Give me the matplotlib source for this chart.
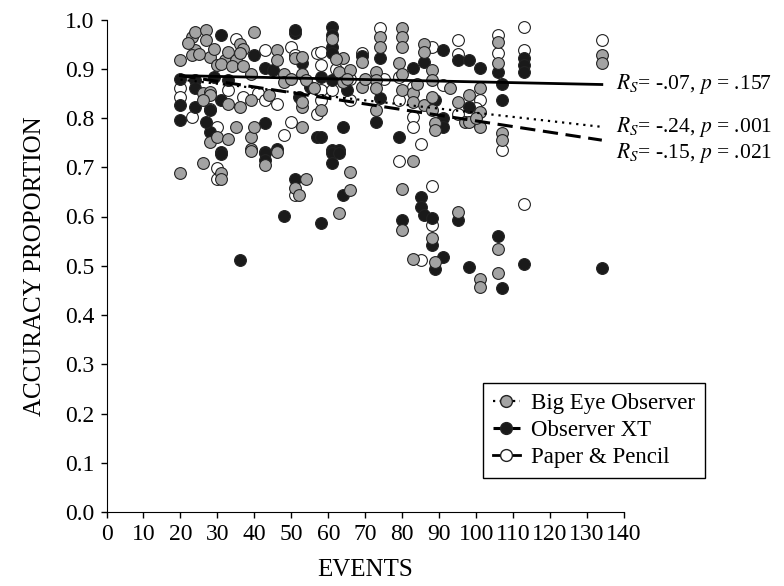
import matplotlib
matplotlib.use("Agg")
import matplotlib.pyplot as plt
from matplotlib.lines import Line2D

plt.rcParams['font.family'] = 'Liberation Serif'
plt.rcParams['mathtext.fontset'] = 'stix'

# Big Eye Observer (gray)
big_x = [20, 23, 24, 27, 27, 36, 37, 24, 23, 28, 30, 32, 33, 35, 36, 40, 46, 46, 51, 53,
         53, 39, 48, 48, 54, 26, 28, 28, 26, 33, 36, 39, 44, 53, 53, 28, 30, 33, 35, 39,
         40, 39, 53,
         61, 58, 63, 64, 66, 64, 69, 69, 74, 74, 73, 73, 73, 73, 80, 80, 80, 79, 80, 86,
         86, 88, 88, 80, 83, 83, 86, 88, 88, 89, 89, 95, 97,
         106, 106, 107, 107, 134, 134, 101, 101, 101, 98, 98,
         20, 26, 31, 31, 39, 43, 46, 54, 51, 52,
         66, 66, 63, 83, 80, 80, 88, 83, 89, 95,
         106, 106, 101, 101,
         22, 25, 29, 31, 34, 37, 50, 56, 62, 65, 70, 84, 93, 100]
big_y = [.917, .965, .975, .978, .958, .951, .941, .938, .928, .924, .907, .917, .934, .917, .931, .975, .938, .917, .921, .924,
         .890, .890, .890, .873, .877, .850, .853, .846, .836, .829, .823, .836, .846, .823, .833, .752, .762, .758, .782, .762,
         .782, .738, .782,
         .961, .816, .894, .921, .897, .873, .914, .863, .965, .945, .894, .877, .860, .816, .982, .965, .945, .911, .890, .951,
         .934, .897, .877, .857, .850, .833, .826, .843, .816, .789, .775, .833, .792,
         .955, .911, .769, .755, .928, .911, .860, .813, .782, .846, .792,
         .689, .709, .688, .677, .732, .705, .730, .677, .657, .644,
         .691, .654, .608, .713, .656, .573, .556, .513, .508, .610,
         .535, .486, .474, .456,
         .952, .930, .940, .910, .905, .905, .880, .860, .920, .880, .880, .870, .860, .800]

# Observer XT (black)
xt_x = [31, 51, 51, 40, 53, 20, 24, 29, 33, 43, 45, 55, 20, 20, 24, 24, 28, 31, 52, 28,
        27, 31, 43, 43, 46, 57,
        61, 61, 61, 61, 61, 58, 65, 74, 74, 73, 64, 58, 61, 63, 79, 83, 91, 86, 89, 91,
        91, 95, 69,
        106, 107, 107, 113, 113, 113, 98, 101, 98,
        31, 43, 43, 51, 48, 36, 58,
        61, 63, 61, 64, 80, 85, 85, 86, 88, 88, 91, 89, 98, 95,
        106, 107, 113, 134]
xt_y = [.968, .972, .978, .928, .911, .880, .877, .884, .877, .901, .897, .863, .826, .796, .860, .823, .816, .836, .843, .772,
        .792, .731, .789, .731, .738, .762,
        .985, .968, .945, .931, .877, .884, .857, .921, .840, .792, .782, .762, .735, .735, .762, .901, .938, .914, .836, .799,
        .782, .917, .925,
        .894, .870, .836, .921, .907, .894, .917, .901, .823,
        .726, .728, .715, .677, .602, .512, .586,
        .728, .728, .709, .644, .593, .639, .620, .603, .596, .542, .518, .493, .498, .593,
        .560, .454, .503, .495]

# Paper & Pencil (white)
pp_x = [35, 43, 50, 51, 57, 20, 20, 23, 28, 37, 33, 41, 43, 46, 57, 30, 48, 50,
        58, 58, 58, 58, 61, 66, 69, 74, 79, 88, 83, 79, 91, 83, 83, 85, 95, 95,
        113, 106, 106, 107, 113, 134, 101,
        30, 30, 51,
        79, 88, 88, 85,
        113, 62, 66, 75, 95, 100]
pp_y = [.961, .938, .945, .928, .931, .860, .843, .802, .819, .843, .857, .850, .836, .829, .809, .782, .765, .792,
        .934, .907, .857, .836, .857, .836, .931, .982, .884, .945, .863, .836, .867, .802, .782, .748, .958, .809,
        .985, .968, .931, .735, .938, .958, .836,
        .698, .677, .644,
        .713, .662, .583, .512,
        .625, .900, .880, .880, .930, .820]

# fitted trend lines (end points)
trend_x = [20, 134]
big_trend = [0.878, 0.782]
xt_trend = [0.886, 0.755]
pp_trend = [0.886, 0.868]

stats = ["$R_S$= -.07, $p$ = .157", "$R_S$= -.24, $p$ = .001", "$R_S$= -.15, $p$ = .021"]
stats_y = [0.869, 0.782, 0.729]

gray = '#a3a3a3'
black = '#1a1a1a'

fig = plt.figure(figsize=(7.84, 5.86), dpi=100)
ax = fig.add_axes([106.5 / 784, 74 / 586, 517.5 / 784, 492.5 / 586])

ms = 72
ax.scatter(pp_x, pp_y, s=ms, facecolor='white', edgecolor='#222222', linewidth=0.8, zorder=2)
ax.scatter(xt_x, xt_y, s=ms, facecolor=black, edgecolor='#222222', linewidth=0.8, zorder=3)
ax.scatter(big_x, big_y, s=ms, facecolor=gray, edgecolor='#222222', linewidth=0.8, zorder=4)

ax.plot(trend_x, pp_trend, color='black', lw=2.0, zorder=5)
ax.plot(trend_x, big_trend, color='black', lw=1.6, linestyle=(0, (1, 2.2)), zorder=5)
ax.plot(trend_x, xt_trend, color='black', lw=2.2, linestyle=(0, (5, 2.5)), zorder=5)

for txt, yy in zip(stats, stats_y):
    ax.text(137.8, yy, txt, fontsize=15.5, va='center', ha='left', clip_on=False)

ax.set_xlim(0, 140)
ax.set_ylim(0, 1.0)
ax.set_xticks(range(0, 141, 10))
ax.set_yticks([i / 10 for i in range(11)])
ax.set_yticklabels(['%.1f' % (i / 10) for i in range(11)])
ax.spines['top'].set_visible(False)
ax.spines['right'].set_visible(False)
ax.tick_params(direction='out', length=4.5, width=1, labelsize=17, pad=4)
ax.set_xlabel('EVENTS', fontsize=18, labelpad=10)
ax.set_ylabel('ACCURACY PROPORTION', fontsize=18, labelpad=14)

handles = [
    Line2D([], [], color='black', lw=1.6, linestyle=(0, (1, 2)), marker='o', markersize=8.5,
           markerfacecolor=gray, markeredgecolor='#222222'),
    Line2D([], [], color='black', lw=2.2, linestyle=(0, (4, 1.5)), marker='o', markersize=8.5,
           markerfacecolor=black, markeredgecolor='#222222'),
    Line2D([], [], color='black', lw=2.0, marker='o', markersize=8.5,
           markerfacecolor='white', markeredgecolor='#222222'),
]
leg = fig.legend(handles, ['Big Eye Observer', 'Observer XT', 'Paper & Pencil'],
                 loc='upper left', bbox_to_anchor=(483 / 784, 1 - 383 / 586),
                 fontsize=16.5, frameon=True, fancybox=False, edgecolor='black',
                 framealpha=1, borderpad=0.45, labelspacing=0.25, handlelength=1.15,
                 handletextpad=0.5, numpoints=1, borderaxespad=0)
leg.get_frame().set_linewidth(1.0)

fig.savefig('out.png', dpi=100)
